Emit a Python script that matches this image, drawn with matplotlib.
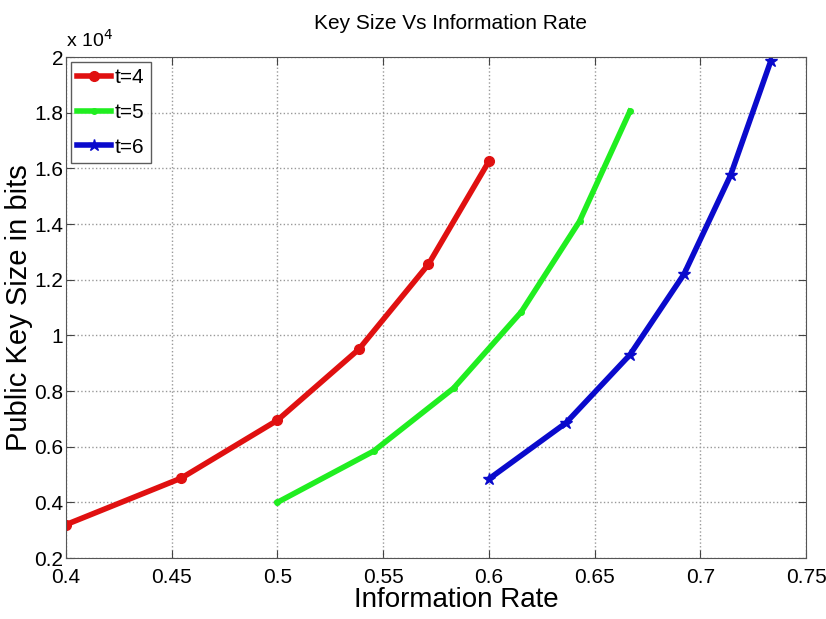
import matplotlib
matplotlib.use('Agg')
import matplotlib.pyplot as plt
from matplotlib.ticker import FuncFormatter

RATE_T4 = [0.4, 0.4545, 0.5, 0.5385, 0.5714, 0.6]
KEY_T4 = [3200, 4870, 6950, 9500, 12550, 16250]
RATE_T5 = [0.5, 0.5455, 0.5833, 0.6154, 0.6429, 0.6667]
KEY_T5 = [4000, 5840, 8100, 10850, 14100, 18050]
RATE_T6 = [0.6, 0.6364, 0.6667, 0.6923, 0.7143, 0.7333]
KEY_T6 = [4840, 6850, 9300, 12200, 15750, 19850]

plt.rcParams.update({
    'font.family': ['Liberation Sans', 'DejaVu Sans'],
    'xtick.direction': 'in',
    'ytick.direction': 'in',
})

fig = plt.figure(figsize=(8.26, 6.19), dpi=100)
ax = fig.add_axes([0.0799, 0.0985, 0.8959, 0.8094])

ax.plot(RATE_T4, KEY_T4, color='#e01010', linewidth=4, marker='o', markersize=7, label='t=4')
ax.plot(RATE_T5, KEY_T5, color='#20ee20', linewidth=4, marker='.', markersize=8, label='t=5')
ax.plot(RATE_T6, KEY_T6, color='#0a0acc', linewidth=4, marker='*', markersize=9, label='t=6')

ax.set_xlim(0.4, 0.75)
ax.set_ylim(2000, 20000)
ax.set_xticks([0.4, 0.45, 0.5, 0.55, 0.6, 0.65, 0.7, 0.75])
ax.set_yticks([2000, 4000, 6000, 8000, 10000, 12000, 14000, 16000, 18000, 20000])
ax.xaxis.set_major_formatter(FuncFormatter(lambda v, p: '%g' % round(v, 2)))
ax.yaxis.set_major_formatter(FuncFormatter(lambda v, p: '%g' % round(v / 1e4, 1)))
ax.tick_params(labelsize=15, length=6, color='#444444', top=True, right=True)
ax.tick_params(axis='x', pad=7)
ax.tick_params(axis='y', pad=2)
ax.grid(True, linestyle=':', color='#999999', linewidth=1)
for s in ax.spines.values():
    s.set_color('#555555')

ax.text(0.0, 1.012, r'x 10$^4$', transform=ax.transAxes, fontsize=14, ha='left', va='bottom')
ax.set_title('Key Size Vs Information Rate', fontsize=15, pad=20, x=0.52)
ax.set_xlabel('Information Rate', fontsize=20, labelpad=0, x=0.528)
ax.set_ylabel('Public Key Size in bits', fontsize=21, labelpad=1)

leg = ax.legend(loc='upper left', fontsize=15, fancybox=False, edgecolor='#333333',
                handlelength=1.6, handletextpad=0.2, borderpad=0.3, labelspacing=0.75,
                borderaxespad=0.25)
leg.get_frame().set_linewidth(1)

fig.savefig('out.png', dpi=100)
